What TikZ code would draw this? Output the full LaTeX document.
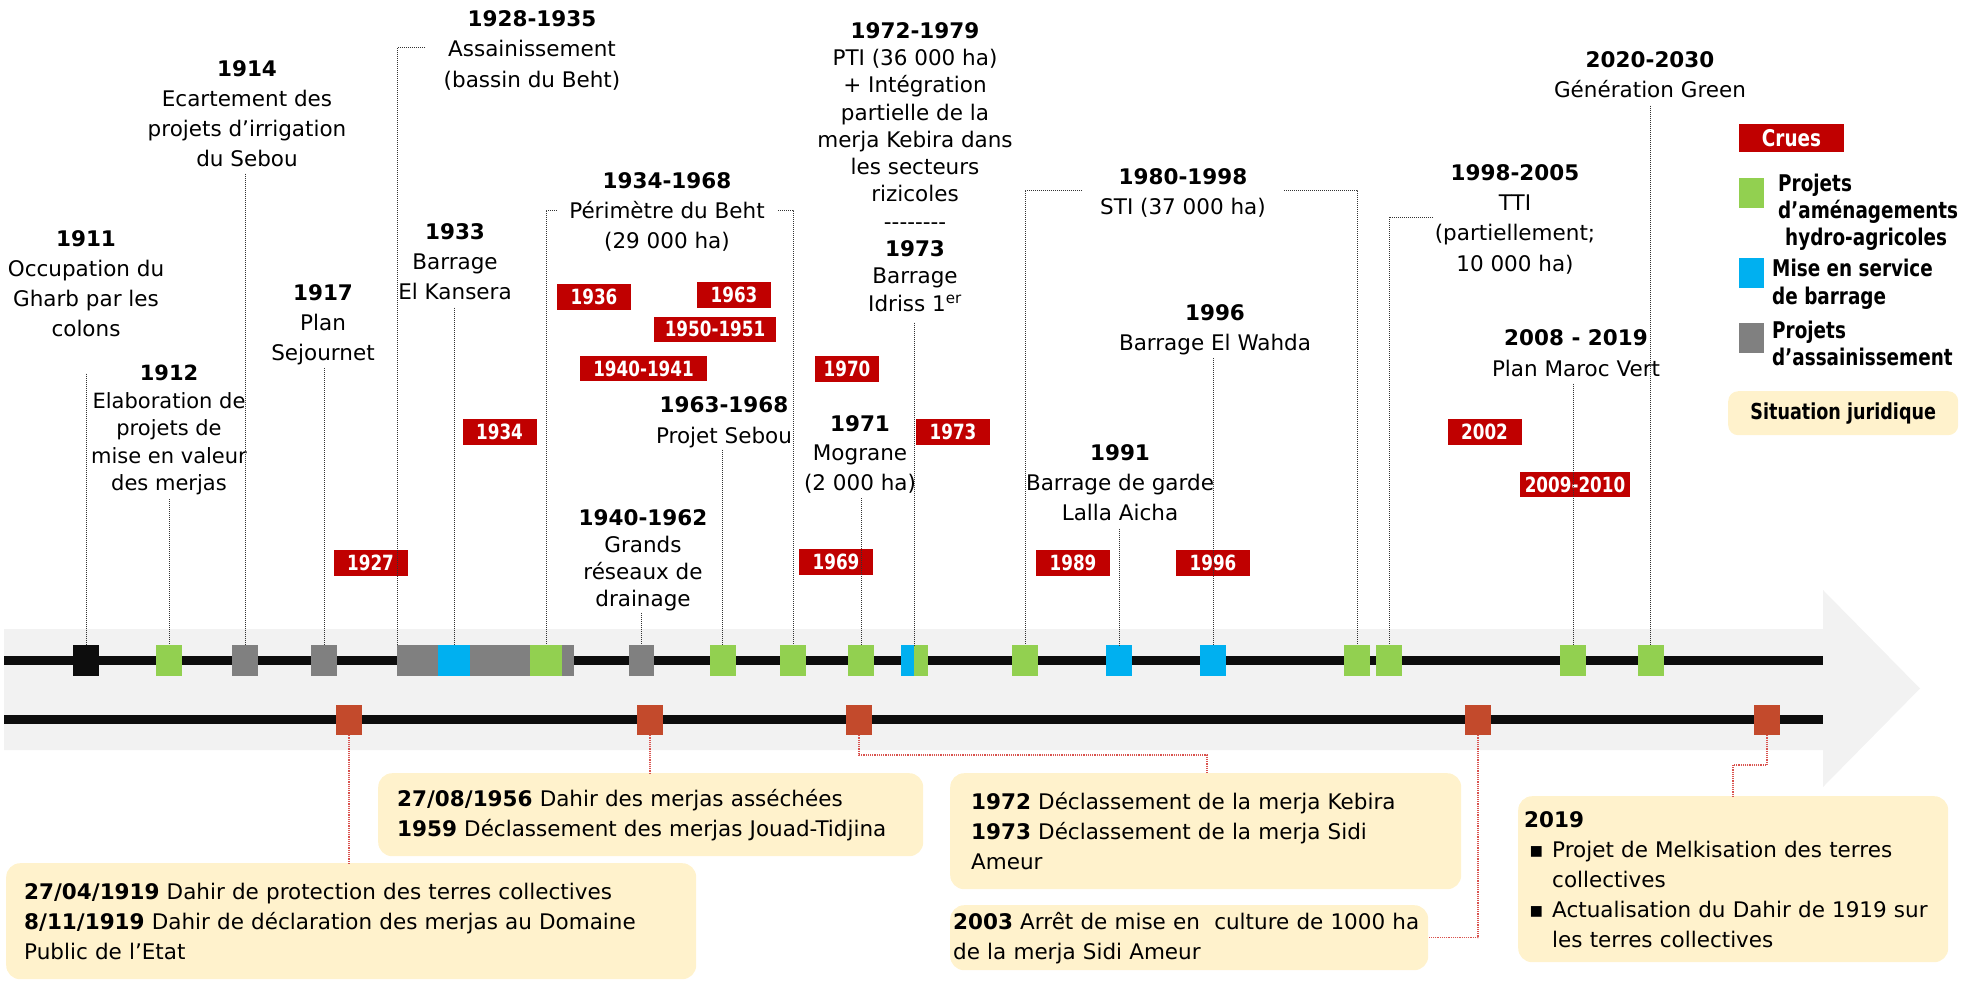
\documentclass[tikz,border=0pt]{standalone}
\usepackage{fontspec}
\setmainfont{DejaVu Sans}
\newfontfamily\narrowfont[FakeStretch=0.8]{DejaVu Sans}
\usetikzlibrary{calc}

\definecolor{crue}{HTML}{C00000}
\definecolor{amgreen}{HTML}{92D050}
\definecolor{dablue}{HTML}{00B0F0}
\definecolor{asgray}{HTML}{808080}
\definecolor{jurred}{HTML}{C34A2C}
\definecolor{jurcream}{HTML}{FFF2CC}
\definecolor{bandgray}{HTML}{F2F2F2}
\definecolor{leadred}{HTML}{D9534F}

\tikzset{
  evt/.style={align=center, inner sep=0pt, anchor=north, font=\fontsize{21.5}{30}\selectfont},
  crbox/.style={fill=crue, text=white, inner sep=0pt, minimum width=74, minimum height=26,
    font=\narrowfont\bfseries\fontsize{21}{21}\selectfont},
  mk/.style={inner sep=0pt, minimum width=26, minimum height=31},
  jmk/.style={mk, fill=jurred, minimum height=30},
  lead/.style={densely dotted, line width=1, draw=black!80},
  jlead/.style={densely dotted, line width=1.2, draw=leadred},
  jbox/.style={fill=jurcream, rounded corners=14, anchor=north west, inner ysep=0pt, align=left,
    font=\fontsize{21.5}{30}\selectfont},
  legtxt/.style={anchor=north west, align=left, inner sep=0pt,
    font=\narrowfont\bfseries\fontsize{23}{27}\selectfont},
  tline/.style={line width=9, draw=black!95}
}

\begin{document}
\begin{tikzpicture}[x=1pt, y=-1pt]
	\useasboundingbox (0,0) rectangle (1961,982);
	% band with arrow head
	\fill[bandgray] (4,629) -- (1823,629) -- (1823,590) -- (1920,688.5) -- (1823,787)
		-- (1823,750) -- (4,750) -- cycle;

	% crues
	\node[crbox] (c1927) at (370.5,562.5) {1927};
	\node[crbox] (c1934) at (499.5,432) {1934};
	\node[crbox] (c1936) at (594,297) {1936};
	\node[crbox] (c1963) at (734,294.5) {1963};
	\node[crbox, minimum width=122, minimum height=25] (c1950) at (715,329) {1950-1951};
	\node[crbox, minimum width=127, minimum height=25] (c1940) at (643.5,368.5) {1940-1941};
	\node[crbox, minimum width=64] (c1970) at (847,369) {1970};
	\node[crbox] (c1973) at (953,432) {1973};
	\node[crbox] (c1969) at (836,562) {1969};
	\node[crbox] (c1989) at (1073,563) {1989};
	\node[crbox] (c1996) at (1213,563) {1996};
	\node[crbox] (c2002) at (1484.5,432) {2002};
	\node[crbox, minimum width=110, minimum height=25] (c2009) at (1575,484.5) {2009-2010};

	% events above the axis
	\node[evt] (l1911) at (86,230) {\textbf{1911}\\Occupation du\\Gharb par les\\colons};
	\node[evt, font=\fontsize{21}{27.5}\selectfont] (l1912) at (169,365)
		{\textbf{1912}\\Elaboration de\\projets de\\mise en valeur\\des merjas};
	\node[evt] (l1914) at (247,60) {\textbf{1914}\\Ecartement des\\projets d’irrigation\\du Sebou};
	\node[evt] (l1917) at (323,284) {\textbf{1917}\\Plan\\Sejournet};
	\node[evt, font=\fontsize{21.5}{30.5}\selectfont] (l1928) at (532,10)
		{\textbf{1928-1935}\\Assainissement\\(bassin du Beht)};
	\node[evt] (l1933) at (455,223) {\textbf{1933}\\Barrage\\El Kansera};
	\node[evt] (l1934) at (667,172) {\textbf{1934-1968}\\Périmètre du Beht\\(29 000 ha)};
	\node[evt, font=\fontsize{21.5}{27}\selectfont] (l1940) at (643,509)
		{\textbf{1940-1962}\\Grands\\réseaux de\\drainage};
	\node[evt, font=\fontsize{21.5}{31}\selectfont] (l1963) at (724,396) {\textbf{1963-1968}\\Projet Sebou};
	\node[evt, font=\fontsize{21.5}{29.5}\selectfont] (l1971) at (860,415) {\textbf{1971}\\Mograne\\(2 000 ha)};
	\node[evt, font=\fontsize{21.5}{27.3}\selectfont] (l1972) at (915,22)
		{\textbf{1972-1979}\\PTI (36 000 ha)\\+ Intégration\\partielle de la\\merja Kebira dans\\les secteurs\\rizicoles\\
		-{}-{}-{}-{}-{}-{}-{}-\\\textbf{1973}\\Barrage\\Idriss 1\textsuperscript{er}};
	\node[evt] (l1980) at (1183,168) {\textbf{1980-1998}\\STI (37 000 ha)};
	\node[evt] (l1991) at (1120,444) {\textbf{1991}\\Barrage de garde\\Lalla Aicha};
	\node[evt] (l1996) at (1215,304) {\textbf{1996}\\Barrage El Wahda};
	\node[evt, font=\fontsize{21.5}{30.3}\selectfont] (l1998) at (1515,164)
		{\textbf{1998-2005}\\TTI\\(partiellement;\\10 000 ha)};
	\node[evt, font=\fontsize{21.5}{31}\selectfont] (l2008) at (1576,329) {\textbf{2008 - 2019}\\Plan Maroc Vert};
	\node[evt] (l2020) at (1650,51) {\textbf{2020-2030}\\Génération Green};

	% axes
	\draw[tline] (4,660) -- (1823,660);
	\draw[tline] (4,719) -- (1823,719);

	% markers on the upper axis
	\node[mk, fill=black!95] (k1911) at (86,660.5) {};
	\node[mk, fill=amgreen] (k1912) at (169,660.5) {};
	\node[mk, fill=asgray] (k1914) at (245,660.5) {};
	\node[mk, fill=asgray] (k1917) at (324,660.5) {};
	\node[mk, fill=asgray, minimum width=177, anchor=west] (k1928) at (397,660.5) {};
	\node[mk, fill=dablue, minimum width=32] (k1933) at (454,660.5) {};
	\node[mk, fill=amgreen, minimum width=32] (k1934) at (546,660.5) {};
	\node[mk, fill=asgray, minimum width=25] (k1940) at (641.5,660.5) {};
	\node[mk, fill=amgreen] (k1963) at (722.5,660.5) {};
	\node[mk, fill=amgreen] (k1968) at (793,660.5) {};
	\node[mk, fill=amgreen] (k1971) at (861,660.5) {};
	\node[mk, fill=dablue, minimum width=13, anchor=east] (k1973) at (914,660.5) {};
	\node[mk, fill=amgreen, minimum width=14, anchor=west] (k1972) at (914,660.5) {};
	\node[mk, fill=amgreen] (k1980) at (1025,660.5) {};
	\node[mk, fill=dablue] (k1991) at (1119,660.5) {};
	\node[mk, fill=dablue] (k1996) at (1213,660.5) {};
	\node[mk, fill=amgreen] (k1998) at (1357,660.5) {};
	\node[mk, fill=amgreen] (k2005) at (1389,660.5) {};
	\node[mk, fill=amgreen] (k2008) at (1573,660.5) {};
	\node[mk, fill=amgreen] (k2020) at (1650.5,660.5) {};

	% leaders
	\draw[lead] ($(k1911 |- l1911.south)+(0,37)$) -- (k1911.north);
	\draw[lead] ($(k1912 |- l1912.south)+(0,4)$) -- (k1912.north);
	\draw[lead] ($(k1914 |- l1914.south)+(0,7)$) -- (k1914.north);
	\draw[lead] ($(k1917 |- l1917.south)+(0,3)$) -- (k1917.north);
	\coordinate (e1928) at (425,48);
	\draw[lead] (e1928) -| (k1928.north west);
	\draw[lead] ($(k1933 |- l1933.south)+(0,8)$) -- (k1933.north);
	\coordinate (e1934a) at (557,210);
	\coordinate (e1934b) at (778,210);
	\draw[lead] (e1934a) -| (k1934.north);
	\draw[lead] (e1934b) -| (k1968.north);
	\draw[lead] ($(k1940 |- l1940.south)+(0,2)$) -- (k1940.north);
	\draw[lead] ($(k1963 |- l1963.south)+(0,2)$) -- (k1963.north);
	\draw[lead] ($(k1971 |- l1971.south)+(0,5)$) -- (k1971.north);
	\draw[lead] ($(k1972.north west |- l1972.south)+(0,11)$) -- (k1972.north west);
	\coordinate (e1980a) at (1082,190);
	\coordinate (e1980b) at (1284,190);
	\draw[lead] (e1980a) -| (k1980.north);
	\draw[lead] (e1980b) -| (k1998.north);
	\draw[lead] ($(k1991 |- l1991.south)+(0,8)$) -- (k1991.north);
	\draw[lead] ($(k1996 |- l1996.south)+(0,3)$) -- (k1996.north);
	\coordinate (e1998) at (1433,217);
	\draw[lead] (e1998) -| (k2005.north);
	\draw[lead] ($(k2008 |- l2008.south)+(0,7)$) -- (k2008.north);
	\draw[lead] ($(k2020 |- l2020.south)+(0,8)$) -- (k2020.north);

	% situation juridique (lower axis)
	\node[jmk] (j1919) at (349,720) {};
	\node[jmk] (j1956) at (650,720) {};
	\node[jmk] (j1972) at (859,720) {};
	\node[jmk] (j2003) at (1478,720) {};
	\node[jmk] (j2019) at (1767,720) {};

	\node[jbox, minimum width=690, minimum height=116, inner xsep=18, text width=654] (b1919) at (6,863)
		{\textbf{27/04/1919} Dahir de protection des terres collectives\\
		\textbf{8/11/1919} Dahir de déclaration des merjas au Domaine\\
		Public de l’Etat};
	\node[jbox, minimum width=545, minimum height=83, inner xsep=19, text width=507] (b1956) at (378,773)
		{\textbf{27/08/1956} Dahir des merjas asséchées\\
		\textbf{1959} Déclassement des merjas Jouad-Tidjina};
	\node[jbox, minimum width=511, minimum height=116, inner xsep=21, text width=469] (b1972) at (950,773)
		{\textbf{1972} Déclassement de la merja Kebira\\
		\textbf{1973} Déclassement de la merja Sidi\\
		Ameur};
	\node[jbox, minimum width=478, minimum height=65, inner xsep=3, text width=472] (b2003) at (950,905)
		{\textbf{2003} Arrêt de mise en\ \ culture de 1000 ha\\
		de la merja Sidi Ameur};
	\node[jbox, minimum width=430, minimum height=166, inner xsep=6, text width=418] (b2019) at (1518,796)
		{\textbf{2019}\\
		\hspace*{5pt}\makebox[23pt][l]{▪}Projet de Melkisation des terres\\
		\hspace*{28pt}collectives\\
		\hspace*{5pt}\makebox[23pt][l]{▪}Actualisation du Dahir de 1919 sur\\
		\hspace*{28pt}les terres collectives};

	\draw[jlead] (j1919.south) -- (b1919.north -| j1919);
	\draw[jlead] (j1956.south) -- (b1956.north -| j1956);
	\coordinate (t1972) at (1207,755);
	\draw[jlead] (j1972.south) |- (t1972) -- (t1972 |- b1972.north);
	\draw[jlead] (j2003.south) |- (b2003.east);
	\coordinate (t2019) at (1733,765);
	\draw[jlead] (j2019.south) |- (t2019) -- (t2019 |- b2019.north);

	% legend
	\node[crbox, minimum width=105, minimum height=28, font=\narrowfont\bfseries\fontsize{23}{23}\selectfont]
		(lgcr) at (1791.5,138) {Crues};
	\node[mk, fill=amgreen, minimum width=25, minimum height=30] (lgam) at (1751.5,193) {};
	\node[mk, fill=dablue, minimum width=25, minimum height=30] (lgbar) at (1751.5,272.5) {};
	\node[mk, fill=asgray, minimum width=25, minimum height=30] (lgas) at (1751.5,338) {};
	\node[legtxt] (lgamt) at (1778,174) {Projets\\d’aménagements\\\hspace*{7pt}hydro-agricoles};
	\node[legtxt, font=\narrowfont\bfseries\fontsize{23}{28}\selectfont] (lgbart) at (1772,259)
		{Mise en service\\de barrage};
	\node[legtxt] (lgast) at (1772,321) {Projets\\d’assainissement};
	\node[jbox, minimum width=230, minimum height=44, inner xsep=17, rounded corners=10,
		font=\narrowfont\bfseries\fontsize{22}{22}\selectfont] (lgjur) at (1728,391) {Situation juridique};
\end{tikzpicture}
\end{document}
